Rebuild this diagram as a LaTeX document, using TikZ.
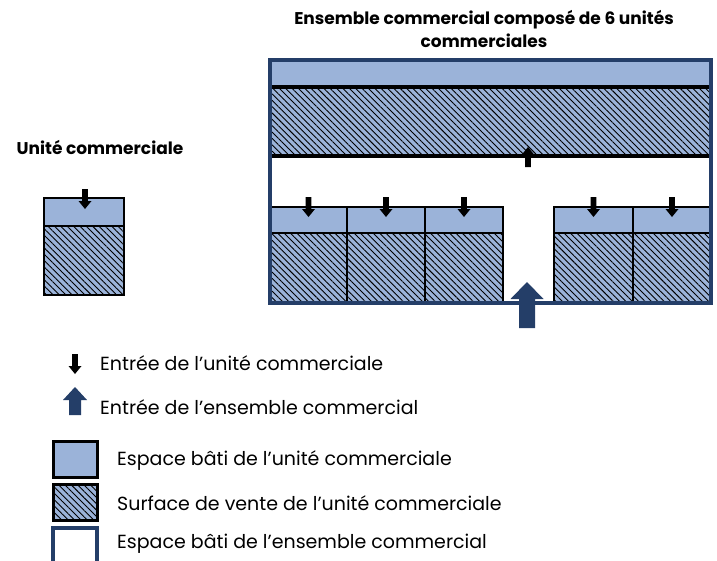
\documentclass[tikz,border=0pt]{standalone}
\usepackage{fontspec}
\setmainfont{Poppins}
\usetikzlibrary{patterns.meta}
\definecolor{bleu}{HTML}{9BB3D9}
\definecolor{marine}{HTML}{243E68}
\tikzset{
  bati/.style={fill=bleu, draw=black, line width=2.8pt},
  vente/.style={preaction={fill=bleu}, pattern={Lines[angle=-45,distance=4.5pt,line width=0.9pt]}, pattern color=black, draw=black, line width=2.8pt},
  cadre/.style={draw=marine, line width=3.6pt},
  titre/.style={font=\bfseries\fontsize{17}{23}\selectfont, align=center},
  legende/.style={font=\fontsize{19}{22}\selectfont, anchor=west, inner sep=0pt},
  pics/bas/.style={code={\fill[black] (-2.8,0) -- (2.8,0) -- (2.8,12) -- (6.5,12) -- (0,20) -- (-6.5,12) -- (-2.8,12) -- cycle;}},
  pics/haut/.style={code={\fill[black] (0,0) -- (6.5,8) -- (2.8,8) -- (2.8,20) -- (-2.8,20) -- (-2.8,8) -- (-6.5,8) -- cycle;}},
  pics/grandhaut/.style={code={\fill[marine] (0,0) -- (16.5,17) -- (8,17) -- (8,46) -- (-8,46) -- (-8,17) -- (-16.5,17) -- cycle;}},
  pics/legendhaut/.style={code={\fill[marine] (0,0) -- (12,13) -- (6,13) -- (6,28) -- (-6,28) -- (-6,13) -- (-12,13) -- cycle;}},
}
\begin{document}
\begin{tikzpicture}[x=1pt,y=-1pt]
\clip (0,0) rectangle (717,560);
\fill[white] (0,0) rectangle (717,560);

% titles
\node[titre] (t1) at (100,147) {Unité commerciale};
\node[titre] (t2) at (484,29) {Ensemble commercial composé de 6 unités\\commerciales};

% single unit
\draw[vente] (44,226) rectangle (124,295);
\draw[bati] (44,198) rectangle (124,226);
\pic at (85,189) {bas};

% ensemble : top bands
\draw[vente] (270,87) rectangle (711,156);
\fill[bleu] (270,60) rectangle (711,87);
\draw[black, line width=3.2pt] (270,87) -- (711,87);
\draw[black, line width=3.2pt] (270,156) -- (711,156);
\pic at (528,147) {haut};

% units
\foreach \a/\b in {270/347, 347/425, 425/503, 554/633, 633/711}{
  \draw[vente] (\a,233) rectangle (\b,303);
  \draw[bati] (\a,207) rectangle (\b,233);
  \pic at ({(\a+\b)/2},197) {bas};
}

% frame
\draw[cadre] (270,60) rectangle (711,303);
\pic at (527,282) {grandhaut};

% legend
\pic at (75,354) {bas};
\node[legende] (l1) at (100,363) {Entrée de l’unité commerciale};
\pic at (75,387) {legendhaut};
\node[legende] (l2) at (100,407) {Entrée de l’ensemble commercial};
\draw[bati, line width=3pt] (53,441) rectangle (97,477);
\node[legende] (l3) at (117,461) {Espace bâti de l’unité commerciale};
\draw[vente, line width=3pt] (53,484) rectangle (97,520);
\node[legende] (l4) at (117,503) {Surface de vente de l’unité commerciale};
\draw[cadre, fill=white] (53,528) rectangle (97,575);
\node[legende] (l5) at (117,544) {Espace bâti de l’ensemble commercial};
\end{tikzpicture}
\end{document}
